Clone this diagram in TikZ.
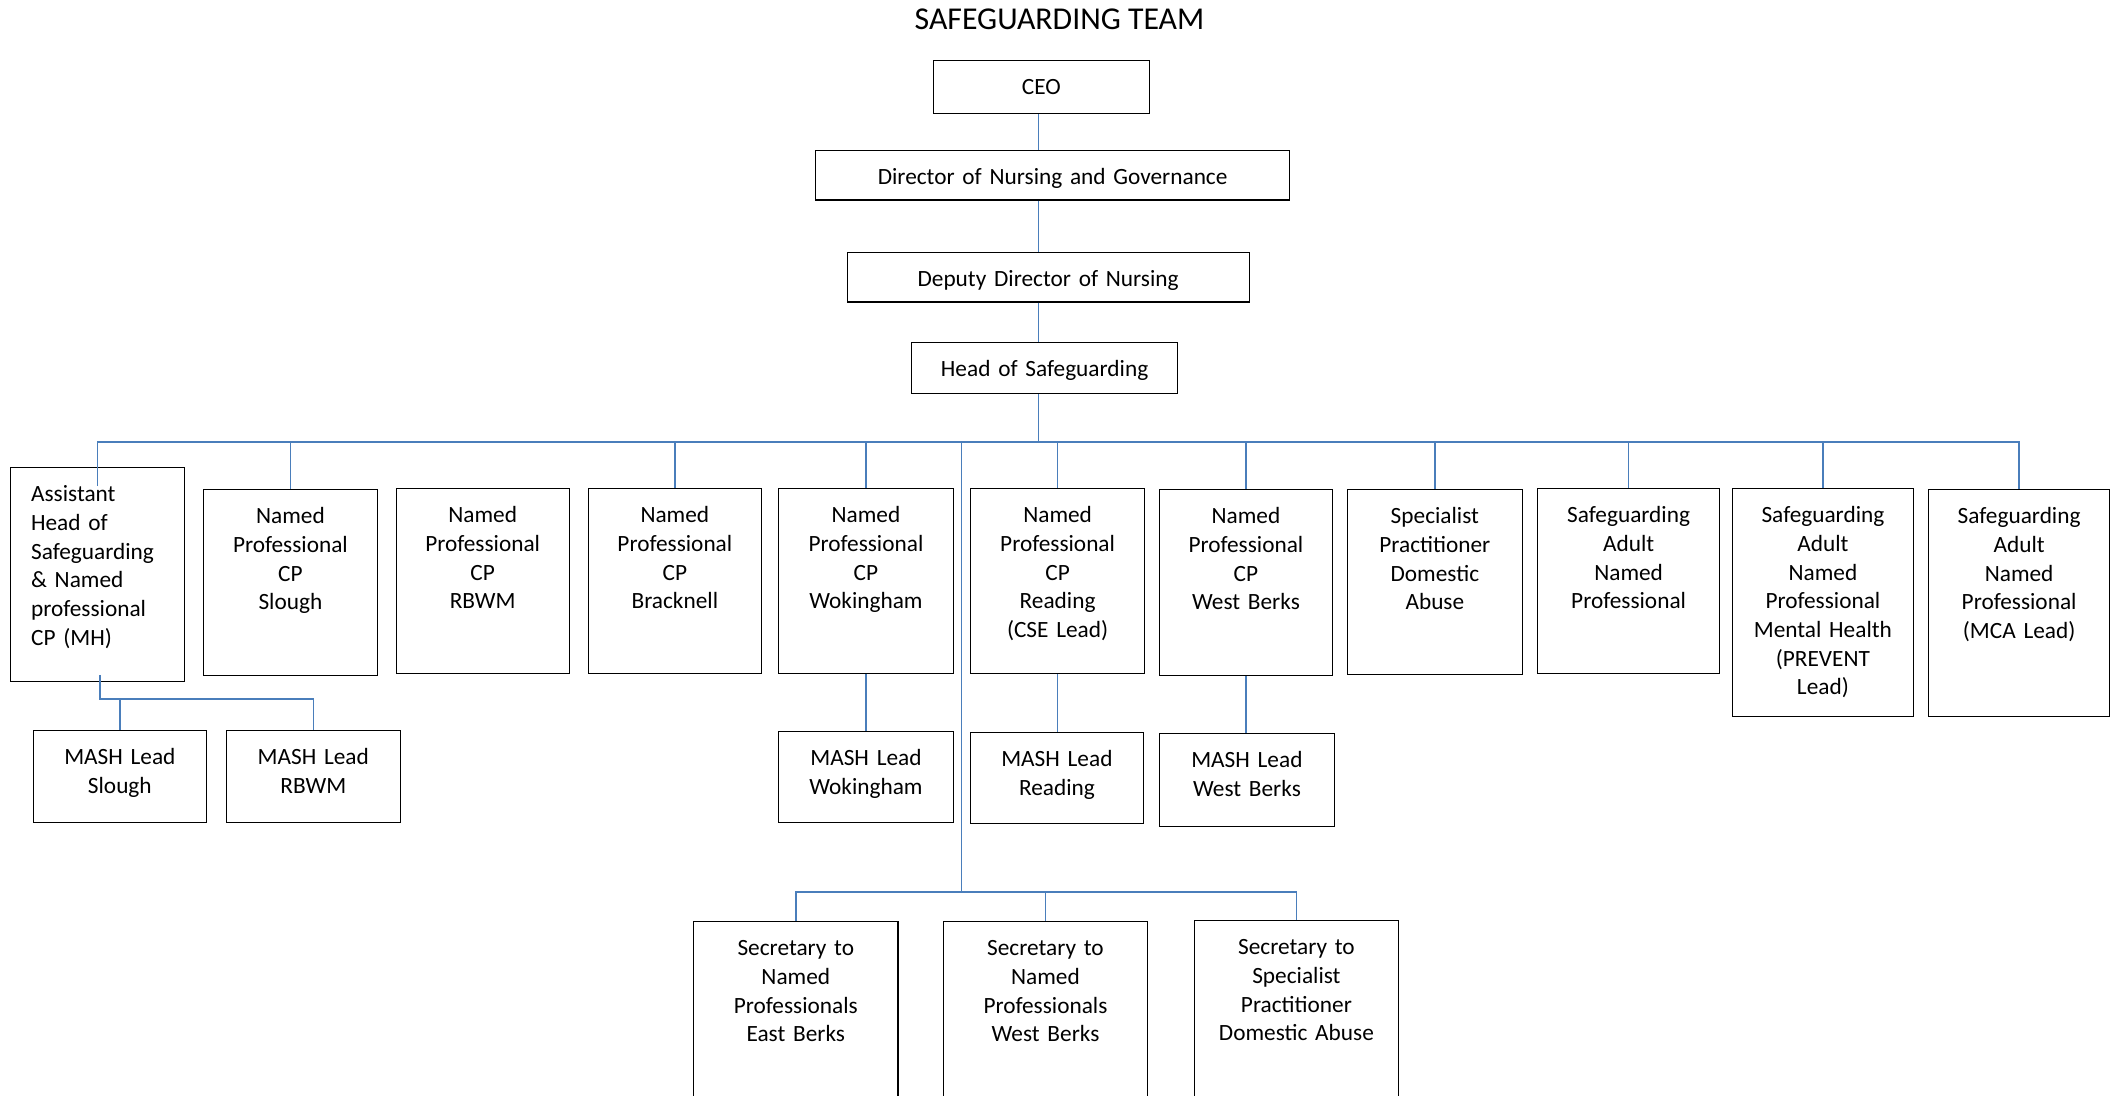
\documentclass[tikz,border=0pt]{standalone}
\usepackage{fontspec}
\setmainfont{Carlito}
\definecolor{linkblue}{RGB}{74,126,187}
\tikzset{
  post/.style={draw, line width=0.6pt, anchor=north west, inner sep=0pt, align=center,
    text height=17pt, font=\fontsize{11.65}{14.35}\selectfont},
  link/.style={draw=linkblue, line width=0.8pt}
}

\begin{document}
\begin{tikzpicture}[x=0.5pt,y=-0.5pt]
  \useasboundingbox (0,0) rectangle (2119,1096);
  \clip (0,0) rectangle (2119,1096);

  \node[anchor=base, font=\fontsize{15.9}{19}\selectfont] (title) at (1059.5,30) {SAFEGUARDING TEAM};

  % top of the chart
  \node[post, text width=107.75pt, text depth=9.5pt] (ceo) at (933,60) {CEO};
  \node[post, text width=237pt, text depth=7.75pt] (dir) at (815,150) {Director of Nursing and Governance};
  \node[post, text width=201pt, text depth=7.75pt] (dep) at (846.5,252) {Deputy Director of Nursing};
  \node[post, text width=133pt, text depth=8.5pt] (head) at (911,342) {Head of Safeguarding\hspace*{9pt}};

  % named professionals
  \node[post, align=left, inner xsep=10.5pt, text width=66.25pt, text depth=90pt] (asst) at (9.5,467)
    {Assistant\\Head of\\Safeguarding\\\& Named\\professional\\CP (MH)};
  \node[post, text width=86.8pt, text depth=76pt] (cpslough) at (203,489) {Named\\Professional\\CP\\Slough};
  \node[post, text width=86.55pt, text depth=75.5pt] (cprbwm) at (395.5,488) {Named\\Professional\\CP\\RBWM};
  \node[post, text width=86.75pt, text depth=75.5pt] (cpbrack) at (587.5,488) {Named\\Professional\\CP\\Bracknell};
  \node[post, text width=87.35pt, text depth=75.5pt] (cpwok) at (778,488) {Named\\Professional\\CP\\Wokingham};
  \node[post, text width=87pt, text depth=75.5pt] (cpread) at (970,488) {Named\\Professional\\CP\\Reading\\(CSE Lead)};
  \node[post, text width=86.7pt, text depth=76pt] (cpwb) at (1158.6,489) {Named\\Professional\\CP\\West Berks};
  \node[post, text width=87.25pt, text depth=75.5pt] (spec) at (1347,489) {Specialist\\Practitioner\\Domestic\\Abuse};
  \node[post, text width=91pt, text depth=75.5pt] (sanp) at (1537,488) {Safeguarding\\Adult\\Named\\Professional};
  \node[post, text width=90.7pt, text depth=97pt] (samh) at (1731.6,488)
    {Safeguarding\\Adult\\Named\\Professional\\Mental Health\\(PREVENT\\Lead)};
  \node[post, text width=90.5pt, text depth=96.5pt] (samca) at (1928,489)
    {Safeguarding\\Adult\\Named\\Professional\\(MCA Lead)};

  % MASH leads
  \node[post, text width=86.75pt, text depth=29pt] (mslough) at (32.5,730) {MASH Lead\\Slough};
  \node[post, text width=86.9pt, text depth=29pt] (mrbwm) at (225.8,730) {MASH Lead\\RBWM};
  \node[post, text width=87.35pt, text depth=28.5pt] (mwok) at (778,731) {MASH Lead\\Wokingham};
  \node[post, text width=86.7pt, text depth=28.5pt] (mread) at (969.6,732) {MASH Lead\\Reading};
  \node[post, text width=87.3pt, text depth=29.5pt] (mwb) at (1159,733) {MASH Lead\\West Berks};

  % secretaries (cut off at the bottom)
  \node[post, text width=102.2pt, text depth=100pt] (sec1) at (693,921) {Secretary to\\Named\\Professionals\\East Berks};
  \node[post, text width=102.15pt, text depth=100pt] (sec2) at (942.7,921) {Secretary to\\Named\\Professionals\\West Berks};
  \node[post, text width=102.2pt, text depth=100pt] (sec3) at (1193.6,920) {Secretary to\\Specialist\\Practitioner\\Domestic Abuse};

  % connectors
  \coordinate (spine) at (1038.5,442);
  \coordinate (secfork) at (961.6,892);
  \coordinate (asstfork) at (99.7,699);

  \draw[link] (ceo.south -| spine) -- (dir.north -| spine);
  \draw[link] (dir.south -| spine) -- (dep.north -| spine);
  \draw[link] (dep.south -| spine) -- (head.north -| spine);
  \draw[link] (head.south -| spine) -- (spine);
  \draw[link] ([yshift=-9.5pt]asst.north) |- (samca.north |- spine) -- (samca.north);
  \foreach \n in {cpslough,cpbrack,cpwok,cpread,cpwb,spec,sanp,samh}
    \draw[link] (\n.north |- spine) -- (\n.north);

  \draw[link] (secfork |- spine) -- (secfork);
  \draw[link] (sec1.north) |- (secfork) -| (sec3.north);
  \draw[link] (sec2.north |- secfork) -- (sec2.north);

  \draw[link] ([yshift=3.7pt]asst.south -| asstfork) -- (asstfork) -| (mrbwm.north);
  \draw[link] (mslough.north |- asstfork) -- (mslough.north);
  \draw[link] (cpwok.south) -- (cpwok.south |- mwok.north);
  \draw[link] (cpread.south) -- (cpread.south |- mread.north);
  \draw[link] (cpwb.south) -- (cpwb.south |- mwb.north);
\end{tikzpicture}
\end{document}
